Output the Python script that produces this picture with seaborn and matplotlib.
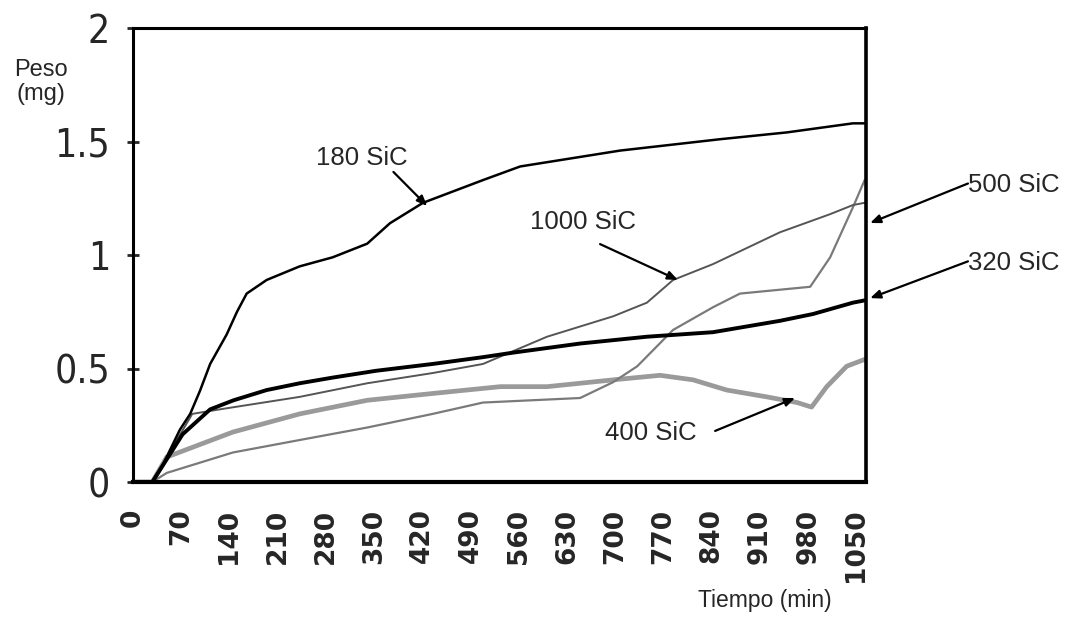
import matplotlib
matplotlib.use("Agg")
import matplotlib.pyplot as plt
import seaborn as sns
import numpy as np
import pandas as pd

# ---- data ----
x_ticks = [0, 70, 140, 210, 280, 350, 420, 490, 560, 630, 700, 770, 840, 910, 980, 1050]
y_ticks = [0, 0.5, 1, 1.5, 2]
y_tick_labels = ["0", "0.5", "1", "1.5", "2"]

t_180 = [0, 28, 44, 68, 83, 97, 112, 136, 151, 165, 194, 242, 290, 340, 373, 421, 508, 562, 707, 852, 949, 1045, 1062]
w_180 = [0, 0, 0.08, 0.23, 0.30, 0.40, 0.52, 0.65, 0.75, 0.83, 0.89, 0.95, 0.99, 1.05, 1.14, 1.23, 1.33, 1.39, 1.46, 1.51, 1.54, 1.58, 1.58]

t_320 = [0, 28, 72, 112, 146, 194, 242, 290, 353, 435, 508, 552, 649, 746, 842, 939, 987, 1045, 1062]
w_320 = [0, 0, 0.21, 0.32, 0.36, 0.405, 0.435, 0.46, 0.49, 0.52, 0.55, 0.57, 0.61, 0.64, 0.66, 0.71, 0.74, 0.79, 0.80]

t_1000 = [0, 28, 86, 126, 242, 340, 435, 508, 601, 697, 746, 784, 842, 939, 1012, 1045, 1062]
w_1000 = [0, 0, 0.30, 0.32, 0.375, 0.435, 0.48, 0.52, 0.64, 0.73, 0.79, 0.89, 0.96, 1.10, 1.18, 1.22, 1.23]

t_500 = [0, 28, 49, 145, 242, 340, 435, 508, 649, 697, 732, 784, 842, 881, 983, 1012, 1045, 1062]
w_500 = [0, 0, 0.04, 0.13, 0.185, 0.24, 0.30, 0.35, 0.37, 0.44, 0.51, 0.67, 0.77, 0.83, 0.86, 0.99, 1.21, 1.33]

t_400 = [0, 28, 49, 145, 242, 340, 435, 533, 601, 697, 765, 813, 862, 920, 964, 985, 1007, 1036, 1062]
w_400 = [0, 0, 0.11, 0.22, 0.30, 0.36, 0.39, 0.42, 0.42, 0.45, 0.47, 0.45, 0.405, 0.375, 0.35, 0.33, 0.42, 0.51, 0.54]

sns.set_style("white")
plt.rcParams["font.family"] = ["Liberation Sans", "DejaVu Sans"]

fig = plt.figure(figsize=(10.73, 6.40), dpi=100)
ax = fig.add_axes([133 / 1073, 1 - 482 / 640, (866 - 133) / 1073, (482 - 28) / 640])

sns.lineplot(x=t_400, y=w_400, ax=ax, color="#9a9a9a", lw=3.4, sort=False)
sns.lineplot(x=t_500, y=w_500, ax=ax, color="#7a7a7a", lw=1.6, sort=False)
sns.lineplot(x=t_1000, y=w_1000, ax=ax, color="#555555", lw=1.4, sort=False)
sns.lineplot(x=t_320, y=w_320, ax=ax, color="black", lw=2.8, sort=False)
sns.lineplot(x=t_180, y=w_180, ax=ax, color="black", lw=1.8, sort=False)

ax.set_xlim(0, 1064)
ax.set_ylim(0, 2)
ax.set_xticks(x_ticks)
ax.set_xticklabels([str(v) for v in x_ticks], rotation=90, fontsize=19,
                   fontweight="bold", family=["DejaVu Sans"])
ax.set_yticks(y_ticks)
ax.set_yticklabels(y_tick_labels, fontsize=28, family=["DejaVu Sans"],
                   fontstretch="condensed")
ax.tick_params(axis="x", length=0, pad=19)
ax.tick_params(axis="y", direction="inout", length=9, width=2, pad=12, left=True)
ax.set_xlabel("")
ax.set_ylabel("")
for side, lw in [("left", 2.2), ("bottom", 3.0), ("top", 2.2), ("right", 2.6)]:
    ax.spines[side].set_visible(True)
    ax.spines[side].set_linewidth(lw)
    ax.spines[side].set_color("black")

arrow = dict(arrowstyle="-|>,head_length=0.6,head_width=0.25", color="black", lw=1.6,
             shrinkA=0, shrinkB=0)
fs = 18.5
ax.text(332, 1.427, "180 SiC", ha="center", va="center", fontsize=fs)
ax.annotate("", xy=(427, 1.216), xytext=(378, 1.366), arrowprops=arrow)
ax.text(653, 1.145, "1000 SiC", ha="center", va="center", fontsize=fs)
ax.annotate("", xy=(791, 0.89), xytext=(678, 1.048), arrowprops=arrow)
ax.text(1212, 1.308, "500 SiC", ha="left", va="center", fontsize=fs, clip_on=False)
ax.annotate("", xy=(1070, 1.141), xytext=(1212, 1.315), arrowprops=arrow, annotation_clip=False)
ax.text(1212, 0.965, "320 SiC", ha="left", va="center", fontsize=fs, clip_on=False)
ax.annotate("", xy=(1070, 0.81), xytext=(1212, 0.972), arrowprops=arrow, annotation_clip=False)
ax.text(751, 0.216, "400 SiC", ha="center", va="center", fontsize=fs)
ax.annotate("", xy=(961, 0.37), xytext=(845, 0.225), arrowprops=arrow)

fig.text(41 / 1073, 1 - 82 / 640, "Peso\n(mg)", ha="center", va="center", fontsize=17, linespacing=1.1)
fig.text(765 / 1073, 1 - 600 / 640, "Tiempo (min)", ha="center", va="center", fontsize=16.5)

fig.savefig("out.png", dpi=100)
